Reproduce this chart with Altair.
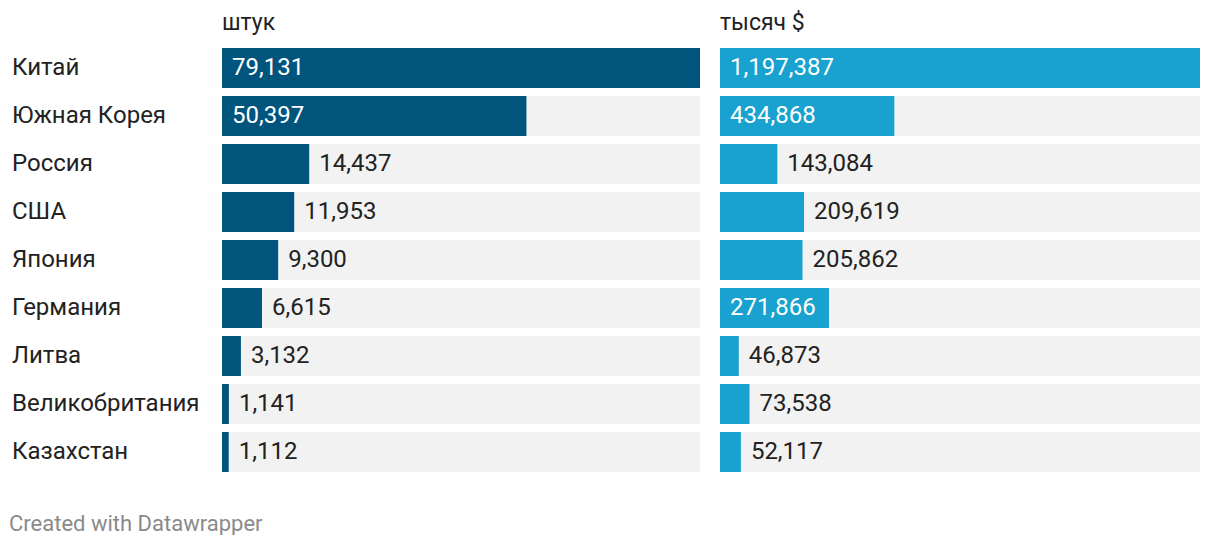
import altair as alt
import pandas as pd

countries = ["Китай", "Южная Корея", "Россия", "США", "Япония", "Германия",
             "Литва", "Великобритания", "Казахстан"]
units = [79131, 50397, 14437, 11953, 9300, 6615, 3132, 1141, 1112]
thousand_usd = [1197387, 434868, 143084, 209619, 205862, 271866, 46873, 73538, 52117]
titles = ["штук", "тысяч $"]
footer = "Created with Datawrapper"

FONT = "Roboto"
FS = 24
W_L, W_R, H = 478, 480, 432


def make_df(values, width):
    mx = max(values)
    rows = []
    for c, v in zip(countries, values):
        lab = f"{v:,}"
        est = sum(5.5 if ch == "," else 13.5 for ch in lab)
        inside = v / mx * width >= est + 20
        rows.append({"country": c, "value": v, "maxv": mx, "label": lab,
                     "pos": 0 if inside else v,
                     "tcolor": "#ffffff" if inside else "#222222"})
    return pd.DataFrame(rows)


def panel(values, width, color, title, show_names):
    df = make_df(values, width)
    mx = max(values)
    y = alt.Y("country:N", sort=countries, axis=None,
              scale=alt.Scale(paddingInner=1/6, paddingOuter=1/12))
    xs = alt.Scale(domain=[0, mx], nice=False, zero=True)
    base = alt.Chart(df)
    bg = base.mark_bar(color="#f2f2f2").encode(
        x=alt.X("maxv:Q", scale=xs, axis=None), y=y)
    bar = base.mark_bar(color=color).encode(
        x=alt.X("value:Q", scale=xs, axis=None), y=y)
    txt = base.mark_text(align="left", baseline="middle", dx=10, fontSize=FS, font=FONT).encode(
        x=alt.X("pos:Q", scale=xs, axis=None), y=y, text="label:N",
        color=alt.Color("tcolor:N", scale=None))
    head = alt.Chart(pd.DataFrame({"t": [title]})).mark_text(
        align="left", baseline="alphabetic", fontSize=23, font=FONT, color="#222222").encode(
        x=alt.value(0), y=alt.value(-14), text="t:N")
    layers = [bg, bar, txt, head]
    if show_names:
        names = base.mark_text(align="left", baseline="middle", fontSize=FS, font=FONT,
                               color="#222222").encode(
            x=alt.value(-210), y=y, text="country:N")
        foot = alt.Chart(pd.DataFrame({"t": [footer]})).mark_text(
            align="left", baseline="middle", fontSize=22, font=FONT, color="#8a8a8a").encode(
            x=alt.value(-213), y=alt.value(H + 48), text="t:N")
        layers += [names, foot]
    return alt.layer(*layers).properties(width=width, height=H)


left = panel(units, W_L, "#01547c", titles[0], True)
right = panel(thousand_usd, W_R, "#19a2cf", titles[1], False)

chart = alt.hconcat(left, right, spacing=20).properties(
    padding={"left": 1, "top": 4, "right": 0, "bottom": 0},
).configure_view(stroke=None)

chart.save("out.html", embed_options={"renderer": "svg", "actions": False})
